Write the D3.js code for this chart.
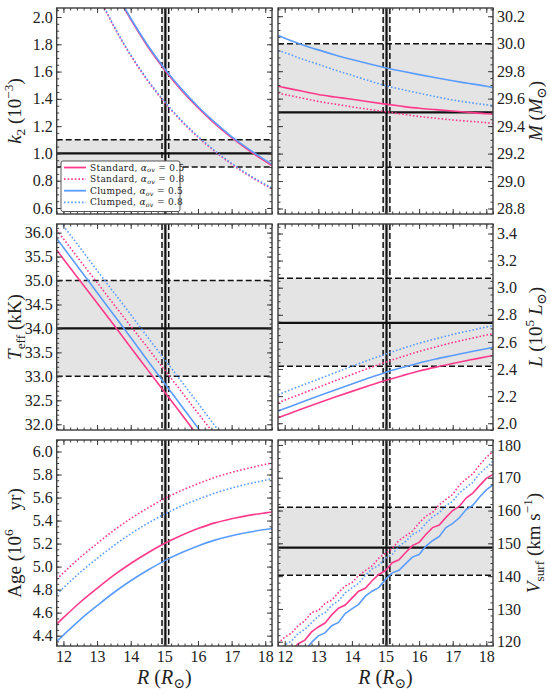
<!DOCTYPE html>
<html>
<head>
<meta charset="utf-8">
<script src="https://cdn.jsdelivr.net/npm/d3@7"></script>
<style>
  body { margin: 0; background: #fff; }
  svg { display: block; }
</style>
</head>
<body>
<script>
// ---- data ----
const legendNames = ['Standard, ', 'Standard, ', 'Clumped, ', 'Clumped, '];
const legendAlpha = ['0.5', '0.8', '0.5', '0.8'];

const xTicks = [12, 13, 14, 15, 16, 17, 18];

// observed radius (value, lower, upper)
const radiusObs = [15.03, 14.93, 15.13];

// model radius grid for the smooth tracks
const modelR = [11.8, 12, 12.5, 13, 13.5, 14, 14.5, 15, 15.5, 16, 16.5, 17, 17.5, 18, 18.2];

// k2 (10^-3)
const k2Ticks = [0.6, 0.8, 1.0, 1.2, 1.4, 1.6, 1.8, 2.0];
const k2Obs = [1.0, 0.9, 1.1];
const k2Std05 = [3.287, 3.13, 2.771, 2.467, 2.207, 1.982, 1.786, 1.616, 1.466, 1.335, 1.218, 1.115, 1.024, 0.942, 0.911];
const k2Std08 = [2.973, 2.817, 2.471, 2.179, 1.930, 1.718, 1.535, 1.376, 1.239, 1.119, 1.014, 0.921, 0.839, 0.767, 0.740];
const k2Clp05 = [3.30, 3.14, 2.78, 2.476, 2.216, 1.991, 1.795, 1.625, 1.475, 1.344, 1.227, 1.124, 1.033, 0.951, 0.920];
const k2Clp08 = [2.98, 2.823, 2.477, 2.185, 1.936, 1.724, 1.541, 1.382, 1.245, 1.125, 1.020, 0.927, 0.845, 0.773, 0.746];

// mass (Msun)
const massTicks = [28.8, 29.0, 29.2, 29.4, 29.6, 29.8, 30.0, 30.2];
const massObs = [29.5, 29.1, 30.0];
const massStd05 = [29.69, 29.68, 29.655, 29.63, 29.612, 29.595, 29.577, 29.56, 29.544, 29.53, 29.52, 29.51, 29.50, 29.49, 29.487];
const massStd08 = [29.64, 29.63, 29.605, 29.58, 29.56, 29.54, 29.522, 29.505, 29.487, 29.47, 29.457, 29.445, 29.435, 29.425, 29.42];
const massClp05 = [30.06, 30.04, 29.995, 29.955, 29.918, 29.885, 29.854, 29.825, 29.799, 29.775, 29.752, 29.73, 29.71, 29.69, 29.68];
const massClp08 = [29.95, 29.935, 29.89, 29.85, 29.808, 29.77, 29.731, 29.695, 29.666, 29.64, 29.614, 29.59, 29.572, 29.555, 29.55];

// Teff (kK)
const teffTicks = [32.0, 32.5, 33.0, 33.5, 34.0, 34.5, 35.0, 35.5, 36.0];
const teffObs = [34.0, 33.0, 35.0];
const teffStd05 = [35.64, 35.45, 34.99, 34.53, 34.07, 33.60, 33.14, 32.68, 32.22, 31.75, 31.29, 30.83, 30.36, 29.90, 29.72];
const teffStd08 = [36.05, 35.87, 35.41, 34.96, 34.50, 34.05, 33.60, 33.14, 32.69, 32.23, 31.78, 31.32, 30.87, 30.41, 30.23];
const teffClp05 = [35.88, 35.69, 35.22, 34.75, 34.28, 33.81, 33.33, 32.86, 32.39, 31.92, 31.45, 30.98, 30.50, 30.03, 29.85];
const teffClp08 = [36.33, 36.14, 35.68, 35.21, 34.75, 34.29, 33.82, 33.36, 32.90, 32.44, 31.97, 31.51, 31.05, 30.58, 30.40];

// luminosity (10^5 Lsun)
const lumTicks = [2.0, 2.2, 2.4, 2.6, 2.8, 3.0, 3.2, 3.4];
const lumObs = [2.74, 2.42, 3.07];
const lumStd05 = [2.04, 2.058, 2.105, 2.15, 2.193, 2.235, 2.276, 2.315, 2.351, 2.385, 2.414, 2.44, 2.466, 2.49, 2.50];
const lumStd08 = [2.15, 2.17, 2.218, 2.265, 2.313, 2.36, 2.406, 2.45, 2.491, 2.53, 2.563, 2.595, 2.623, 2.65, 2.66];
const lumClp05 = [2.09, 2.108, 2.155, 2.2, 2.246, 2.29, 2.333, 2.375, 2.411, 2.445, 2.474, 2.5, 2.526, 2.55, 2.56];
const lumClp08 = [2.21, 2.23, 2.278, 2.325, 2.373, 2.42, 2.466, 2.51, 2.551, 2.59, 2.623, 2.655, 2.683, 2.71, 2.72];

// age (Myr)
const ageTicks = [4.4, 4.6, 4.8, 5.0, 5.2, 5.4, 5.6, 5.8, 6.0];
const ageStd05 = [4.50, 4.556, 4.69, 4.81, 4.925, 5.027, 5.118, 5.20, 5.27, 5.33, 5.38, 5.415, 5.445, 5.467, 5.475];
const ageStd08 = [4.89, 4.946, 5.08, 5.20, 5.315, 5.417, 5.508, 5.59, 5.66, 5.72, 5.775, 5.818, 5.855, 5.888, 5.90];
const ageClp05 = [4.35, 4.405, 4.54, 4.66, 4.775, 4.877, 4.968, 5.05, 5.12, 5.18, 5.23, 5.268, 5.298, 5.322, 5.33];
const ageClp08 = [4.76, 4.816, 4.95, 5.07, 5.183, 5.285, 5.375, 5.455, 5.525, 5.585, 5.638, 5.682, 5.72, 5.75, 5.765];

// surface rotation (km/s), noisy tracks on a finer grid
const vsurfTicks = [120, 130, 140, 150, 160, 170, 180];
const vsurfObs = [148.7, 140.3, 161.0];
const vsurfR = [11.8, 12.0, 12.2, 12.4, 12.6, 12.8, 13.0, 13.2, 13.4, 13.6, 13.8, 14.0, 14.2, 14.4, 14.6, 14.8, 15.0,
                15.2, 15.4, 15.6, 15.8, 16.0, 16.2, 16.4, 16.6, 16.8, 17.0, 17.2, 17.4, 17.6, 17.8, 18.0, 18.2];
const vsurfStd05 = [113.7, 115.8, 117.1, 119.4, 120.5, 123.0, 124.5, 125.7, 128.2, 130.2, 131.2, 133.3, 135.4, 136.3, 138.6, 140.5, 141.7,
                    144.1, 145.0, 147.2, 149.3, 150.3, 152.7, 154.8, 155.6, 157.9, 160.0, 161.3, 163.8, 165.3, 167.6, 169.8, 171.0];
const vsurfStd08 = [119.5, 121.4, 122.6, 124.9, 126.4, 128.9, 129.5, 131.7, 132.7, 135.0, 137.0, 138.0, 140.2, 141.7, 143.1, 145.5, 147.0,
                    148.4, 150.9, 152.3, 153.7, 156.2, 158.3, 159.4, 161.7, 163.4, 164.9, 167.8, 169.6, 171.2, 173.9, 176.2, 178.0];
const vsurfClp05 = [111.0, 112.4, 114.8, 116.2, 117.4, 119.8, 121.8, 122.7, 124.9, 125.9, 128.6, 130.0, 131.4, 133.9, 135.4, 136.5, 139.0,
                    141.0, 141.8, 143.8, 145.8, 146.6, 149.1, 150.8, 152.1, 154.8, 156.1, 157.8, 160.3, 161.6, 164.1, 166.3, 167.8];
const vsurfClp08 = [117.0, 119.0, 120.2, 122.5, 123.8, 125.8, 127.8, 128.8, 131.1, 132.5, 134.9, 136.4, 137.8, 140.2, 142.2, 143.3, 145.5,
                    146.6, 149.1, 150.6, 152.7, 153.7, 156.0, 158.1, 159.3, 161.5, 162.8, 165.4, 167.0, 168.6, 171.3, 173.0, 175.1];

// ---- styling / layout ----
const PINK = '#ff3a8c';
const BLUE = '#5b9cff';
const BAND = '#e4e4e4';
const FRAME = '#3c3c3c';
const SERIF = "'Liberation Serif', 'DejaVu Serif', serif";
const LEGEND_FONT = "'DejaVu Serif', serif";

const seriesStyle = [
    { color: PINK, dash: null },
    { color: PINK, dash: '1.6,2' },
    { color: BLUE, dash: null },
    { color: BLUE, dash: '1.6,2' }
];

const xDomain = [11.8, 18.2];
const cols = [{ x0: 56.7, x1: 272 }, { x0: 278, x1: 493 }];
const rows = [{ y0: 8, y1: 214 }, { y0: 224, y1: 430 }, { y0: 440, y1: 646 }];

const panels = [
    { id: 'k2', col: 0, row: 0, yDomain: [0.556, 2.066], ticks: k2Ticks, minor: 0.05, fmt: '.1f',
      obs: k2Obs, r: modelR, series: [k2Std05, k2Std08, k2Clp05, k2Clp08] },
    { id: 'mass', col: 1, row: 0, yDomain: [28.76, 30.26], ticks: massTicks, minor: 0.05, fmt: '.1f',
      obs: massObs, r: modelR, series: [massStd05, massStd08, massClp05, massClp08] },
    { id: 'teff', col: 0, row: 1, yDomain: [31.88, 36.18], ticks: teffTicks, minor: 0.1, fmt: '.1f',
      obs: teffObs, r: modelR, series: [teffStd05, teffStd08, teffClp05, teffClp08] },
    { id: 'lum', col: 1, row: 1, yDomain: [1.95, 3.47], ticks: lumTicks, minor: 0.05, fmt: '.1f',
      obs: lumObs, r: modelR, series: [lumStd05, lumStd08, lumClp05, lumClp08] },
    { id: 'age', col: 0, row: 2, yDomain: [4.31, 6.10], ticks: ageTicks, minor: 0.05, fmt: '.1f',
      obs: null, r: modelR, series: [ageStd05, ageStd08, ageClp05, ageClp08] },
    { id: 'vsurf', col: 1, row: 2, yDomain: [118.7, 181.5], ticks: vsurfTicks, minor: 2, fmt: 'd',
      obs: vsurfObs, r: vsurfR, series: [vsurfStd05, vsurfStd08, vsurfClp05, vsurfClp08], linear: true }
];

const svg = d3.select('body').append('svg')
    .attr('width', 550)
    .attr('height', 694)
    .attr('font-family', SERIF);

const defs = svg.append('defs');

function minorValues(domain, step) {
    const out = [];
    const start = Math.ceil(domain[0] / step - 1e-6);
    const end = Math.floor(domain[1] / step + 1e-6);
    for (let i = start; i <= end; i++) out.push(+(i * step).toFixed(4));
    return out;
}

function styleAxis(g, showLabels) {
    g.select('.domain').remove();
    g.selectAll('.tick line').attr('stroke', FRAME).attr('stroke-width', 1);
    g.selectAll('.tick text')
        .attr('fill', '#222')
        .attr('font-family', SERIF)
        .attr('font-size', 16)
        .style('display', showLabels ? null : 'none');
}

function drawPanel(p) {
    const { x0, x1 } = cols[p.col];
    const { y0, y1 } = rows[p.row];
    const x = d3.scaleLinear().domain(xDomain).range([x0, x1]);
    const y = d3.scaleLinear().domain(p.yDomain).range([y1, y0]);

    defs.append('clipPath').attr('id', 'clip-' + p.id)
        .append('rect').attr('x', x0).attr('y', y0).attr('width', x1 - x0).attr('height', y1 - y0);

    const g = svg.append('g').attr('class', 'panel panel-' + p.id);
    const inner = g.append('g').attr('clip-path', `url(#clip-${p.id})`);

    // shaded 1-sigma regions
    if (p.obs) {
        inner.append('rect')
            .attr('x', x0).attr('width', x1 - x0)
            .attr('y', y(p.obs[2])).attr('height', y(p.obs[1]) - y(p.obs[2]))
            .attr('fill', BAND);
    }
    inner.append('rect')
        .attr('x', x(radiusObs[1])).attr('width', x(radiusObs[2]) - x(radiusObs[1]))
        .attr('y', y0).attr('height', y1 - y0)
        .attr('fill', BAND);

    // observed values
    if (p.obs) {
        p.obs.forEach((v, i) => {
            inner.append('line')
                .attr('x1', x0).attr('x2', x1)
                .attr('y1', y(v)).attr('y2', y(v))
                .attr('stroke', '#111')
                .attr('stroke-width', i === 0 ? 2.2 : 1.5)
                .attr('stroke-dasharray', i === 0 ? null : '6,3');
        });
    }
    radiusObs.forEach((v, i) => {
        inner.append('line')
            .attr('x1', x(v)).attr('x2', x(v))
            .attr('y1', y0).attr('y2', y1)
            .attr('stroke', '#111')
            .attr('stroke-width', i === 0 ? 2.2 : 1.5)
            .attr('stroke-dasharray', i === 0 ? null : '6,3');
    });

    // model tracks
    const line = d3.line()
        .x(d => x(d[0]))
        .y(d => y(d[1]))
        .curve(p.linear ? d3.curveLinear : d3.curveMonotoneX);

    p.series.forEach((vals, i) => {
        const pts = p.r.map((r, j) => [r, vals[j]]);
        inner.append('path')
            .datum(pts)
            .attr('d', line)
            .attr('fill', 'none')
            .attr('stroke', seriesStyle[i].color)
            .attr('stroke-width', 1.6)
            .attr('stroke-dasharray', seriesStyle[i].dash);
    });

    // ticks on all four sides, pointing inward
    const xMinor = minorValues(xDomain, 0.2);
    const yMinor = minorValues(p.yDomain, p.minor);
    const isBottom = p.row === 2;
    const labelLeft = p.col === 0;

    g.append('g').attr('transform', `translate(0,${y1})`)
        .call(d3.axisBottom(x).tickValues(xMinor).tickSize(-2.5).tickFormat(''))
        .call(a => styleAxis(a, false));
    g.append('g').attr('transform', `translate(0,${y1})`)
        .call(d3.axisBottom(x).tickValues(xTicks).tickSize(-5).tickPadding(5).tickFormat(d3.format('d')))
        .call(a => styleAxis(a, isBottom));
    g.append('g').attr('transform', `translate(0,${y0})`)
        .call(d3.axisTop(x).tickValues(xMinor).tickSize(-2.5).tickFormat(''))
        .call(a => styleAxis(a, false));
    g.append('g').attr('transform', `translate(0,${y0})`)
        .call(d3.axisTop(x).tickValues(xTicks).tickSize(-5).tickFormat(''))
        .call(a => styleAxis(a, false));

    g.append('g').attr('transform', `translate(${x0},0)`)
        .call(d3.axisLeft(y).tickValues(yMinor).tickSize(-2.5).tickFormat(''))
        .call(a => styleAxis(a, false));
    g.append('g').attr('transform', `translate(${x0},0)`)
        .call(d3.axisLeft(y).tickValues(p.ticks).tickSize(-5).tickPadding(4).tickFormat(d3.format(p.fmt)))
        .call(a => styleAxis(a, labelLeft));
    g.append('g').attr('transform', `translate(${x1},0)`)
        .call(d3.axisRight(y).tickValues(yMinor).tickSize(-2.5).tickFormat(''))
        .call(a => styleAxis(a, false));
    g.append('g').attr('transform', `translate(${x1},0)`)
        .call(d3.axisRight(y).tickValues(p.ticks).tickSize(-5).tickPadding(4).tickFormat(d3.format(p.fmt)))
        .call(a => styleAxis(a, !labelLeft));

    // frame
    g.append('rect')
        .attr('x', x0).attr('y', y0)
        .attr('width', x1 - x0).attr('height', y1 - y0)
        .attr('fill', 'none')
        .attr('stroke', FRAME)
        .attr('stroke-width', 1.4);
}

panels.forEach(drawPanel);

// rich text: parts like {t, i (italic), sub, sup}
function richText(sel, parts, size, subShift = 0.22) {
    let shift = 0;
    parts.forEach(part => {
        const ts = sel.append('tspan').text(part.t);
        let target = 0;
        if (part.sub) target = subShift * size;
        if (part.sup) target = -0.42 * size;
        if (target !== shift) {
            ts.attr('dy', target - shift);
            shift = target;
        }
        if (part.sub || part.sup) ts.attr('font-size', size * 0.7);
        if (part.i) ts.attr('font-style', 'italic');
    });
}

function axisLabel(cx, cy, rotate, parts, size = 18) {
    const t = svg.append('text')
        .attr('transform', `translate(${cx},${cy})` + (rotate ? ' rotate(-90)' : ''))
        .attr('text-anchor', 'middle')
        .attr('fill', '#222')
        .attr('font-size', size);
    richText(t, parts, size);
}

const rowMid = rows.map(r => (r.y0 + r.y1) / 2);

axisLabel(21, rowMid[0], true, [{ t: 'k', i: true }, { t: '2', sub: true }, { t: ' (10' }, { t: '−3', sup: true }, { t: ')' }], 19);
axisLabel(21, rowMid[1], true, [{ t: 'T', i: true }, { t: 'eff', sub: true }, { t: ' (kK)' }], 19);
axisLabel(21, rowMid[2], true, [{ t: 'Age (10' }, { t: '6', sup: true }, { t: '\u2003yr)' }], 19);
axisLabel(542, rowMid[0], true, [{ t: 'M', i: true }, { t: ' (' }, { t: 'M', i: true }, { t: '⊙', sub: true }, { t: ')' }], 19);
axisLabel(542, rowMid[1], true, [{ t: 'L', i: true }, { t: ' (10' }, { t: '5', sup: true }, { t: ' ' }, { t: 'L', i: true }, { t: '⊙', sub: true }, { t: ')' }], 19);
axisLabel(540, rowMid[2], true, [{ t: 'V', i: true }, { t: 'surf', sub: true }, { t: ' (km s' }, { t: '−1', sup: true }, { t: ')' }], 19);
cols.forEach(c => {
    axisLabel((c.x0 + c.x1) / 2, 684, false, [{ t: 'R', i: true }, { t: ' (' }, { t: 'R', i: true }, { t: '⊙', sub: true }, { t: ')' }], 20);
});

// legend inside the k2 panel
const legend = svg.append('g').attr('class', 'legend');
legend.append('rect')
    .attr('x', 61).attr('y', 161)
    .attr('width', 119).attr('height', 50.5)
    .attr('rx', 2)
    .attr('fill', '#fff')
    .attr('stroke', '#555')
    .attr('stroke-width', 1);

legendNames.forEach((name, i) => {
    const ly = 167.5 + i * 11.6;
    legend.append('line')
        .attr('x1', 64).attr('x2', 86)
        .attr('y1', ly).attr('y2', ly)
        .attr('stroke', seriesStyle[i].color)
        .attr('stroke-width', 1.8)
        .attr('stroke-dasharray', seriesStyle[i].dash);
    const t = legend.append('text')
        .attr('x', 90).attr('y', ly + 3)
        .attr('font-family', LEGEND_FONT)
        .attr('font-size', 9)
        .attr('letter-spacing', 0.3)
        .attr('fill', '#222');
    richText(t, [{ t: name }, { t: 'α', i: true }, { t: 'ov', i: true, sub: true }, { t: ' = ' + legendAlpha[i] }], 9, 0.2);
});
</script>
</body>
</html>
